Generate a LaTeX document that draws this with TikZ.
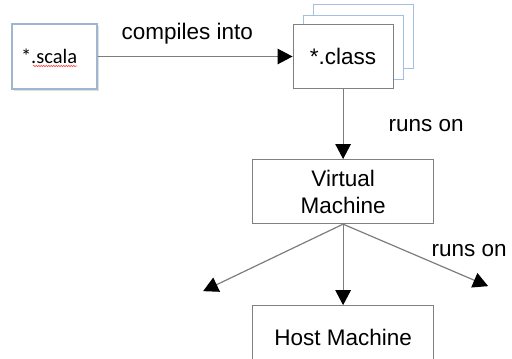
\documentclass[tikz,border=0pt]{standalone}
\usepackage{fontspec}
\setmainfont{Liberation Sans}
\newfontfamily\calibri{Carlito}
\usetikzlibrary{calc}
\usetikzlibrary{positioning,arrows.meta,shadows,backgrounds,decorations.pathmorphing}

\definecolor{BOX_GRAY}{RGB}{128,128,128}
\definecolor{BOX_BLUE}{RGB}{165,192,222}
\definecolor{LINE_GRAY}{RGB}{125,125,125}

\tikzstyle{box}         = [rectangle, draw=BOX_GRAY, fill=white, line width=1.1pt, inner sep=0pt, font=\fontsize{22.5}{27}\selectfont]
\tikzstyle{src_box}     = [box, draw=BOX_BLUE!85!gray, minimum width=85pt, minimum height=65pt, text width=67pt, inner xsep=9pt, align=left, font=\calibri\fontsize{20.5}{24}\selectfont, drop shadow={shadow xshift=1.5pt, shadow yshift=-1.5pt, opacity=0.25}]
\tikzstyle{file_box}    = [box, minimum width=100pt, minimum height=64pt]
\tikzstyle{copy_box}    = [file_box, draw=BOX_BLUE]
\tikzstyle{machine_box} = [box, minimum width=181pt, minimum height=64pt, align=center]
\tikzstyle{flow}        = [draw=LINE_GRAY, line width=1.2pt, -{Triangle[width=15.5pt, length=15pt, color=black]}]
\tikzstyle{lbl}         = [inner sep=0pt, font=\fontsize{22.5}{27}\selectfont]

\begin{document}
\begin{tikzpicture}[node distance = 70pt and 195pt]
  \useasboundingbox (0,0) rectangle (512pt,-359pt);

  % source and compiled files
  \node[src_box] (scala) at (54.5pt,-56.5pt) {*.scala};
  \node[file_box, right=of scala] (class) {*.class};
  \begin{scope}[on background layer]
    \node[copy_box, shift={(20pt,20pt)}] (class_3) at (class) {};
    \node[copy_box, shift={(10pt,9pt)}] (class_2) at (class) {};
  \end{scope}
  \draw[red!70, line width=0.6pt, decorate, decoration={snake, amplitude=0.7pt, segment length=2.5pt}]
    ($(scala.center)+(-21.5pt,-9.5pt)$) -- ($(scala.center)+(22.5pt,-9.5pt)$);

  % machines
  \node[machine_box, below=of class] (vm) {Virtual\\Machine};
  \node[machine_box, below=81pt of vm] (host) {Host Machine};
  \coordinate[below left=67pt and 140pt of vm.south] (vm_left);
  \coordinate[below right=62pt and 145pt of vm.south] (vm_right);

  % arrows
  \draw[flow] (scala) -- node[lbl, anchor=base, yshift=17pt, pos=0.46] {compiles into} (class);
  \draw[flow] (class) -- node[lbl, pos=0.6, anchor=base west, xshift=45pt] {runs on} (vm);
  \draw[flow] (vm.south) -- (vm_left);
  \draw[flow] (vm.south) -- (host);
  \draw[flow] (vm.south) -- node[lbl, pos=0.607, anchor=base west, yshift=5.6pt] {runs on} (vm_right);
\end{tikzpicture}
\end{document}
